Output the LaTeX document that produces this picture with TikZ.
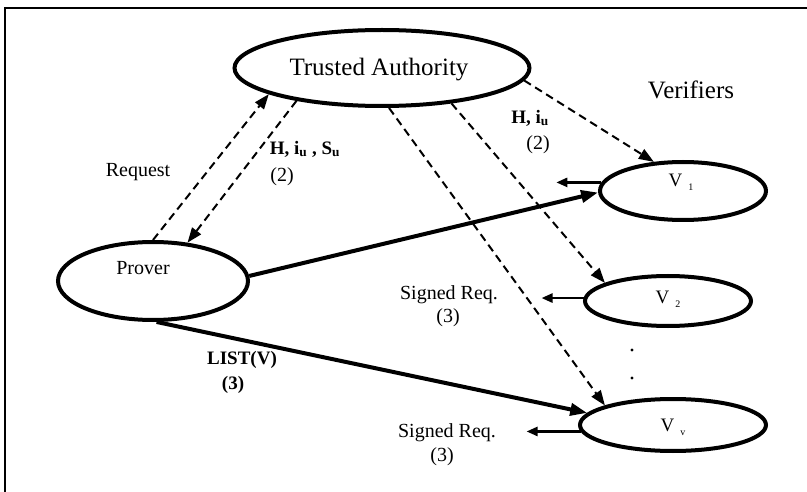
\documentclass[tikz,border=0pt]{standalone}
\usepackage{fontspec}
\setmainfont{Liberation Serif}
\usetikzlibrary{arrows.meta,shapes.geometric}
\tikzset{
  ell/.style={draw,ellipse,line width=4pt,inner sep=0pt},
  txt/.style={font=\fontsize{20}{24}\selectfont,inner sep=0pt},
  bigtxt/.style={font=\fontsize{25}{30}\selectfont,inner sep=0pt},
  bldtxt/.style={font=\fontsize{19}{23}\selectfont\bfseries,inner sep=0pt},
  vtxt/.style={font=\fontsize{19}{22}\selectfont,inner sep=0pt},
  msg/.style={->,dash pattern=on 8pt off 5pt,line width=2pt},
  send/.style={-{Triangle[length=17pt,width=12pt]},line width=4pt},
  back/.style={-{Triangle[length=11pt,width=9pt]},line width=2.5pt}
}
\newcommand{\vsub}[1]{V\hspace{6pt}\raisebox{-4pt}{\fontsize{10}{11}\selectfont #1}}
\begin{document}
\begin{tikzpicture}[x=1pt,y=-1pt,>={Triangle[length=15pt,width=11pt]}]
                \useasboundingbox (0,0) rectangle (807,492);
                \draw[line width=1.5pt] (5,492)--(5,8)--(807,8);
                % ellipses
                \node[ell,minimum width=295pt,minimum height=76pt] (ta) at (382,68) {};
                \node[ell,minimum width=190pt,minimum height=78pt] (prover) at (153,281) {};
                \node[ell,minimum width=166pt,minimum height=58pt] (v1) at (683,191) {};
                \node[ell,minimum width=166pt,minimum height=50pt] (v2) at (668,301) {};
                \node[ell,minimum width=186pt,minimum height=52pt] (vv) at (673,425) {};
                \node[bigtxt] (tatxt) at (379,70) {Trusted Authority};
                \node[bigtxt] (verif) at (691,90) {Verifiers};
                \node[txt] (provtxt) at (143,268) {Prover};
                \node[vtxt] (v1txt) at (681,182) {\vsub{1}};
                \node[vtxt] (v2txt) at (668,299) {\vsub{2}};
                \node[vtxt] (vvtxt) at (673,427) {\vsub{v}};
                \foreach \y in {350,378} \fill (632,\y) circle (1.6pt);
                % messages
                \draw[msg] (prover.90)--(ta.193);
                \draw[msg] (ta.201)--(prover.48);
                \draw[msg] (ta.-5)--(v1.135);
                \draw[msg] (ta.-27)--(v2.164);
                \draw[msg] (ta.-80)--(vv.164);
                \draw[send] (prover.3)--(v1.181);
                \draw[send] (prover.-85)--(vv.172);
                \draw[back] (v1.174)--++(-45,0);
                \draw[back] (v2.178)--++(-42,0);
                \draw[back] (vv.184)--++(-54,0);
                % labels
                \node[txt] (req) at (138,172) {Request};
                \node[bldtxt] (hius) at (305,149) {H, i\textsubscript{u} , S\textsubscript{u}};
                \node[txt] (two) at (282,177) {(2)};
                \node[bldtxt] (hiu) at (530,118) {H, i\textsubscript{u}};
                \node[txt] (twob) at (538,145) {(2)};
                \node[bldtxt] (list) at (242,360) {LIST(V)};
                \node[bldtxt] (three) at (233,385) {(3)};
                \node[txt] (sreq) at (449,295) {Signed Req.};
                \node[txt] (threeb) at (448,318) {(3)};
                \node[txt] (sreqb) at (447,433) {Signed Req.};
                \node[txt] (threec) at (442,457) {(3)};
\end{tikzpicture}
\end{document}
